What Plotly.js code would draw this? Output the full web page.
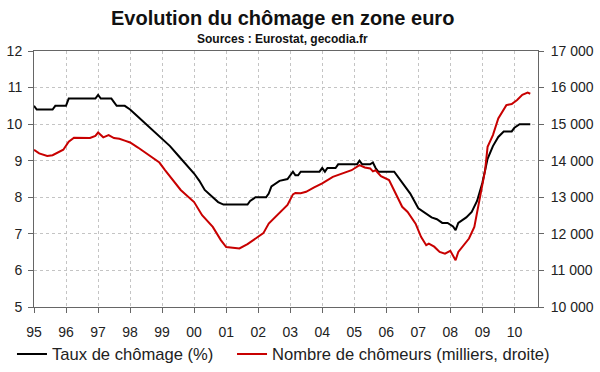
<!DOCTYPE html>
<html>
<head>
<meta charset="utf-8">
<script src="https://cdn.plot.ly/plotly-3.0.1.min.js"></script>
<style>html,body{margin:0;padding:0;background:#fff;}#chart{width:600px;height:372px;}</style>
</head>
<body>
<div id="chart"></div>
<script>
// Taux de chômage (%), left axis
var rateDates = ["1995-01","1995-02","1995-08","1995-09","1996-01","1996-02","1996-12","1997-01","1997-02","1997-06","1997-07","1997-08","1997-11","1998-01","1998-04","1998-07","1998-10","1999-01","1999-04","1999-07","1999-10","2000-01","2000-03","2000-05","2000-08","2000-10","2000-12","2001-09","2001-10","2001-12","2002-04","2002-05","2002-06","2002-09","2002-12","2003-02","2003-03","2003-04","2003-05","2003-12","2004-01","2004-02","2004-03","2004-06","2004-07","2005-02","2005-03","2005-04","2005-07","2005-08","2005-09","2005-10","2006-04","2006-06","2006-08","2006-10","2007-01","2007-04","2007-06","2007-08","2007-10","2007-12","2008-02","2008-03","2008-04","2008-07","2008-09","2008-11","2009-01","2009-03","2009-05","2009-07","2009-09","2009-12","2010-01","2010-03","2010-07"];
var rateValues = [10.5,10.4,10.4,10.5,10.5,10.7,10.7,10.8,10.7,10.7,10.6,10.5,10.5,10.4,10.2,10.0,9.8,9.6,9.4,9.15,8.9,8.65,8.45,8.2,8.0,7.87,7.8,7.8,7.9,8.0,8.0,8.1,8.3,8.45,8.5,8.7,8.6,8.6,8.7,8.7,8.8,8.7,8.8,8.8,8.9,8.9,9.0,8.9,8.9,8.95,8.8,8.7,8.7,8.5,8.3,8.1,7.7,7.55,7.45,7.4,7.3,7.3,7.2,7.1,7.3,7.45,7.6,7.9,8.4,9.05,9.4,9.65,9.8,9.8,9.9,10.0,10.0];

// Nombre de chômeurs (milliers), right axis
var countDates = ["1995-01","1995-03","1995-06","1995-08","1995-12","1996-02","1996-04","1996-10","1996-12","1997-01","1997-03","1997-05","1997-07","1997-09","1997-11","1998-01","1998-04","1998-08","1998-12","1999-02","1999-05","1999-08","2000-01","2000-04","2000-08","2000-11","2001-01","2001-06","2001-09","2002-01","2002-03","2002-05","2002-09","2002-12","2003-02","2003-03","2003-05","2003-07","2003-10","2004-01","2004-05","2004-09","2004-12","2005-03","2005-05","2005-07","2005-08","2005-09","2005-11","2006-02","2006-04","2006-07","2006-09","2006-12","2007-02","2007-04","2007-05","2007-06","2007-07","2007-09","2007-11","2008-01","2008-02","2008-03","2008-04","2008-06","2008-08","2008-10","2008-12","2009-02","2009-03","2009-05","2009-07","2009-09","2009-10","2009-12","2010-02","2010-04","2010-06","2010-07"];
var countValues = [14300,14200,14130,14150,14300,14520,14630,14620,14680,14770,14640,14700,14620,14600,14550,14500,14360,14150,13950,13750,13470,13200,12870,12510,12190,11830,11640,11600,11720,11930,12020,12280,12560,12790,13080,13120,13110,13150,13270,13380,13560,13670,13740,13880,13815,13790,13710,13740,13580,13470,13195,12740,12600,12280,11920,11690,11735,11690,11650,11506,11460,11535,11415,11280,11506,11690,11873,12190,12920,13740,14380,14700,15157,15430,15520,15550,15660,15800,15860,15830];

var yearTicks = ["1995-01-01","1996-01-01","1997-01-01","1998-01-01","1999-01-01","2000-01-01","2001-01-01","2002-01-01","2003-01-01","2004-01-01","2005-01-01","2006-01-01","2007-01-01","2008-01-01","2009-01-01","2010-01-01"];
var yearLabels = ["95","96","97","98","99","00","01","02","03","04","05","06","07","08","09","10"];

var titleText = "Evolution du chômage en zone euro";
var subtitleText = "Sources : Eurostat, gecodia.fr";
var rateName = "Taux de chômage (%)";
var countName = "Nombre de chômeurs (milliers, droite)";

var traces = [
  {x: rateDates, y: rateValues, name: rateName, type: "scatter", mode: "lines",
   line: {color: "#000000", width: 2}, yaxis: "y", legend: "legend"},
  {x: countDates, y: countValues, name: countName, type: "scatter", mode: "lines",
   line: {color: "#c80000", width: 2}, yaxis: "y2", legend: "legend2"}
];

var font = "Liberation Sans, Arial, sans-serif";
var legendFont = {family: font, size: 16.6, color: "#222"};
var layout = {
  width: 600, height: 372,
  margin: {l: 34, r: 62, t: 51, b: 65, pad: 0, autoexpand: false},
  paper_bgcolor: "#ffffff", plot_bgcolor: "#ffffff",
  separators: ", ",
  font: {family: font, size: 14, color: "#222"},
  showlegend: true,
  legend: {orientation: "h", x: -0.0437, xanchor: "left", y: -0.116, yanchor: "top",
           font: legendFont},
  legend2: {orientation: "h", x: 0.3929, xanchor: "left", y: -0.116, yanchor: "top",
            font: legendFont},
  xaxis: {type: "date", range: ["1995-01-01", "2010-09-27"],
          tickvals: yearTicks, ticktext: yearLabels, automargin: false,
          showgrid: true, gridcolor: "#c4c4c4", griddash: "dot", gridwidth: 1,
          showline: true, linecolor: "#666", linewidth: 1, mirror: true,
          ticks: "outside", ticklen: 5, tickcolor: "#666", ticklabelstandoff: 7,
          tickfont: {family: font, size: 14, color: "#222"}, zeroline: false},
  yaxis: {range: [5, 12], dtick: 1, tick0: 5, automargin: false,
          showgrid: true, gridcolor: "#c4c4c4", griddash: "dot", gridwidth: 1,
          showline: true, linecolor: "#666", linewidth: 1,
          ticks: "outside", ticklen: 5, tickcolor: "#666", ticklabelstandoff: 3,
          tickfont: {family: font, size: 14, color: "#222"}, zeroline: false},
  yaxis2: {range: [10000, 17000], dtick: 1000, tick0: 10000, tickformat: ",d",
           overlaying: "y", side: "right", showgrid: false, automargin: false,
           showline: true, linecolor: "#666", linewidth: 1,
           ticks: "outside", ticklen: 5, tickcolor: "#666", ticklabelstandoff: 4,
           tickfont: {family: font, size: 14, color: "#222"}, zeroline: false},
  annotations: [
    {text: "<b>" + titleText + "</b>", xref: "paper", yref: "paper",
     x: 0.493, y: 1.128, xanchor: "center", yanchor: "middle", showarrow: false,
     font: {family: font, size: 20, color: "#111"}},
    {text: "<b>" + subtitleText + "</b>", xref: "paper", yref: "paper",
     x: 0.493, y: 1.047, xanchor: "center", yanchor: "middle", showarrow: false,
     font: {family: font, size: 12, color: "#111"}}
  ]
};

Plotly.newPlot("chart", traces, layout, {displayModeBar: false, staticPlot: true});
</script>
</body>
</html>
